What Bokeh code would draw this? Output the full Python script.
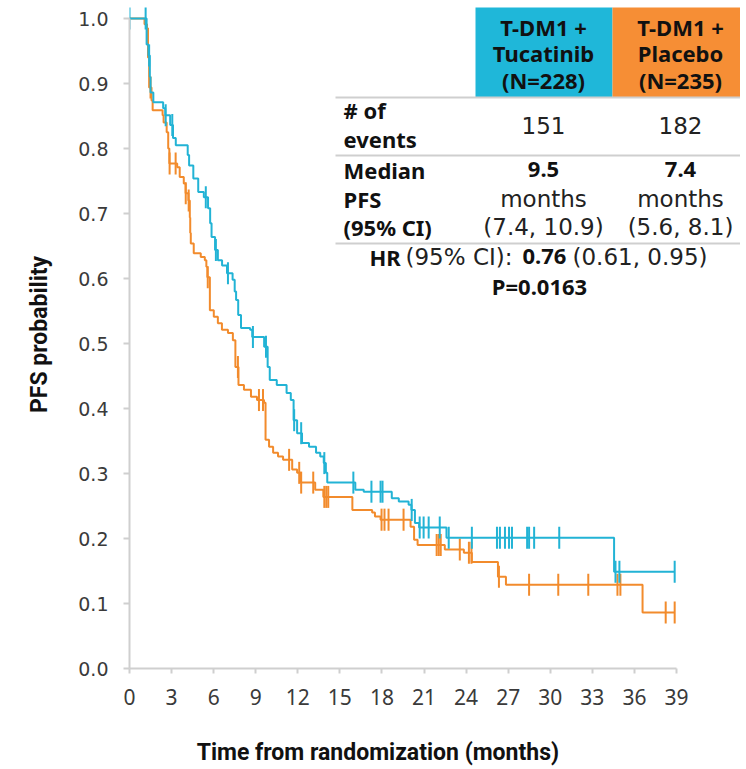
import numpy as np
from bokeh.plotting import figure
from bokeh.models import LinearAxis, FixedTicker, PrintfTickFormatter, Range1d
from bokeh.core.properties import value
from bokeh.embed import file_html
from bokeh.resources import INLINE

# ---------------- data ----------------
x_ticks = [0, 3, 6, 9, 12, 15, 18, 21, 24, 27, 30, 33, 36, 39]
y_ticks = [0.0, 0.1, 0.2, 0.3, 0.4, 0.5, 0.6, 0.7, 0.8, 0.9, 1.0]

# T-DM1 + Tucatinib: step times (months) and PFS probability after each step
tuc_t = [0, 1.22, 1.35, 1.45, 1.5, 1.7, 2.4, 2.55, 2.9, 3.1, 3.3, 4.15, 4.25, 4.55, 4.9,
         5.3, 5.6, 5.75, 5.85, 6.1, 6.3, 6.6, 6.95, 7.35, 7.5, 7.6, 7.75, 7.95, 8.6, 8.75,
         9.6, 9.85, 10.0, 10.5, 11.2, 11.5, 11.7, 11.95, 12.3, 12.8, 13.3, 13.6, 13.85, 14.0,
         14.1, 16.1, 16.7, 18.7, 19.2, 19.9, 20.1, 20.35, 20.65, 22.6, 34.55]
tuc_s = [1.0, 0.96, 0.943, 0.91, 0.886, 0.871, 0.862, 0.851, 0.836, 0.816, 0.805, 0.79, 0.774,
         0.754, 0.733, 0.725, 0.708, 0.685, 0.664, 0.644, 0.628, 0.62, 0.608, 0.598, 0.58,
         0.567, 0.544, 0.524, 0.521, 0.51, 0.495, 0.464, 0.444, 0.436, 0.424, 0.413, 0.382,
         0.362, 0.347, 0.341, 0.332, 0.326, 0.316, 0.301, 0.286, 0.275, 0.272, 0.262, 0.257,
         0.252, 0.244, 0.224, 0.217, 0.201, 0.149]
tuc_end = 38.87
tuc_censor = [0.0, 1.15, 1.4, 2.58, 3.05, 5.44, 6.16, 7.02, 8.8, 9.73, 11.74, 12.24, 13.89,
              15.96, 17.25, 17.9, 18.04, 20.12, 20.69, 20.97, 21.33, 22.12, 22.76, 24.41,
              26.2, 26.41, 26.77, 27.06, 27.27, 28.35, 28.49, 28.85, 30.64, 34.65, 34.93, 38.87]

# T-DM1 + Placebo
pla_t = [0, 1.07, 1.25, 1.32, 1.4, 1.57, 1.65, 2.36, 2.43, 2.65, 2.76, 2.84, 3.4, 3.58, 3.87,
         4.0, 4.2, 4.3, 4.33, 4.37, 4.58, 5.08, 5.37, 5.48, 5.55, 5.73, 6.01, 6.3, 6.59, 7.02,
         7.37, 7.55, 7.77, 8.16, 8.66, 9.09, 9.59, 9.7, 9.95, 10.24, 10.59, 10.95, 11.6, 11.95,
         12.2, 13.24, 13.82, 15.89, 17.3, 17.5, 17.9, 20.04, 20.29, 20.54, 22.48, 23.84, 24.41,
         26.27, 26.84, 36.58]
pla_s = [1.0, 0.991, 0.985, 0.94, 0.894, 0.874, 0.859, 0.851, 0.84, 0.825, 0.8, 0.777, 0.771,
         0.756, 0.746, 0.731, 0.72, 0.694, 0.67, 0.654, 0.639, 0.633, 0.628, 0.618, 0.602,
         0.551, 0.541, 0.531, 0.521, 0.516, 0.505, 0.464, 0.436, 0.429, 0.418, 0.413, 0.409,
         0.352, 0.341, 0.332, 0.326, 0.321, 0.306, 0.301, 0.286, 0.275, 0.264, 0.244, 0.24,
         0.234, 0.229, 0.218, 0.198, 0.19, 0.183, 0.178, 0.164, 0.141, 0.129, 0.086]
pla_end = 38.87
pla_censor = [1.5, 2.86, 3.29, 4.01, 4.22, 5.58, 7.73, 9.23, 9.52, 11.38, 12.1, 12.24, 13.1,
              13.89, 14.03, 14.17, 17.97, 18.18, 18.47, 19.54, 21.9, 22.05, 22.19, 23.55,
              24.2, 24.38, 26.34, 28.49, 30.57, 32.71, 34.79, 35.0, 38.23, 38.87]

arm_names = ["T-DM1 +\nTucatinib\n(N=228)", "T-DM1 +\nPlacebo\n(N=235)"]
events = ["151", "182"]
median_pfs = ["9.5", "7.4"]
median_ci = ["(7.4, 10.9)", "(5.6, 8.1)"]
hr_text = ["HR", "(95% CI):", "0.76", "(0.61, 0.95)"]
p_text = "P=0.0163"
x_title = "Time from randomization (months)"
y_title = "PFS probability"

# ---------------- styling / layout ----------------
BLUE = "#22b3d5"
ORANGE = "#f28b2c"
BLUE_BOX = "#1fb7d9"
ORANGE_BOX = "#f68e35"
GRID = "#cfcfcf"
BOLD_FONT = value("Noto Sans")
NORM_FONT = value("DejaVu Sans")

W, H = 740, 768
FRAME_L, FRAME_R, FRAME_T, FRAME_B = 129, 740, 0, 668  # page pixels
X0_PX, X39_PX, Y1_PX = 129, 676, 18
KX = (X39_PX - X0_PX) / 39.0
KY = (FRAME_B - Y1_PX) / 1.0
x_start = -(X0_PX - FRAME_L) / KX
x_end = 39 + (FRAME_R - X39_PX) / KX
y_end = 1.0 + (Y1_PX - FRAME_T) / KY


def X(px):
    return x_start + (px - FRAME_L) / KX


def Y(py):
    return (FRAME_B - py) / KY


p = figure(width=W, height=H, x_range=Range1d(x_start, x_end), y_range=Range1d(0, y_end),
           output_backend="svg", toolbar_location=None,
           x_axis_location=None, y_axis_location=None,
           min_border_left=FRAME_L, min_border_right=W - FRAME_R, min_border_top=FRAME_T,
           min_border_bottom=H - FRAME_B)
p.outline_line_color = None
p.xgrid.visible = False
p.ygrid.visible = False

# the x title is centred under the curves (not under the wider frame that also holds the
# table), so it is padded on the right with no-break spaces
xaxis = LinearAxis(ticker=FixedTicker(ticks=x_ticks), bounds=(x_start, 39),
                   axis_label=x_title + "\u00a0" * 20)
yaxis = LinearAxis(ticker=FixedTicker(ticks=y_ticks), bounds=(0, 1.0),
                   formatter=PrintfTickFormatter(format="%.1f"), axis_label=y_title)
for ax in (xaxis, yaxis):
    ax.axis_line_color = GRID
    ax.axis_line_width = 2
    ax.major_tick_line_color = GRID
    ax.major_tick_line_width = 2
    ax.major_tick_in = 0
    ax.minor_tick_line_color = None
    ax.major_label_text_color = "#3a3a3a"
    ax.axis_label_text_font = "Roboto"
    ax.axis_label_text_font_style = "bold"
    ax.axis_label_text_font_size = "23px"
    ax.axis_label_text_color = "#111111"
xaxis.major_tick_out = 5
xaxis.major_label_standoff = 15
xaxis.major_label_text_font = "Noto Sans"
xaxis.major_label_text_font_size = "21px"
xaxis.axis_label_standoff = 31
yaxis.major_tick_out = 6
yaxis.major_label_standoff = 15
yaxis.major_label_text_font = "DejaVu Sans"
yaxis.major_label_text_font_size = "19px"
yaxis.axis_label_standoff = 22
p.add_layout(xaxis, "below")
p.add_layout(yaxis, "left")


def surv_at(times, surv, t):
    idx = np.searchsorted(np.array(times), np.array(t), side="right") - 1
    return [surv[i] for i in idx]


for times, surv, end, cens, col in ((pla_t, pla_s, pla_end, pla_censor, ORANGE),
                                    (tuc_t, tuc_s, tuc_end, tuc_censor, BLUE)):
    xs = list(times) + [end]
    ys = list(surv) + [surv[-1]]
    p.step(xs, ys, mode="after", line_color=col, line_width=2)
    p.scatter(cens, surv_at(times, surv, cens), marker="dash", angle=np.pi / 2, size=22,
              line_color=col, line_width=2)

# ---------------- table ----------------
COL_C = [543, 680]
p.quad(left=[X(475), X(612)], right=[X(612), X(FRAME_R)], top=[Y(7), Y(7)],
       bottom=[Y(97), Y(97)], fill_color=[BLUE_BOX, ORANGE_BOX], line_color=None)
p.segment(x0=[X(335)] * 3, x1=[X(FRAME_R)] * 3, y0=[Y(97), Y(155), Y(243)],
          y1=[Y(97), Y(155), Y(243)], line_color=GRID, line_width=2)

bold = dict(text_font=BOLD_FONT, text_font_size="22px", text_font_style="bold",
            text_color="#111111", text_baseline="middle")
norm = dict(text_font=NORM_FONT, text_font_size="23px", text_font_style="normal",
            text_color="#222222", text_baseline="middle")

# header
hx, hy, ht = [], [], []
for c, name in zip(COL_C, arm_names):
    for line, py in zip(name.split("\n"), (26, 52, 79)):
        hx.append(X(c)); hy.append(Y(py)); ht.append(line)
p.text(hx, hy, ht, text_align="center", **bold)

# row labels
p.text([X(343)] * 5, [Y(109), Y(138), Y(169), Y(198), Y(226)],
       ["# of", "events", "Median", "PFS", "(95% CI)"], text_align="left", **bold)

# values
p.text([X(c) for c in COL_C], [Y(125)] * 2, events, text_align="center", **norm)
p.text([X(c) for c in COL_C], [Y(169)] * 2, median_pfs, text_align="center", **bold)
p.text([X(c) for c in COL_C], [Y(198)] * 2, ["months", "months"], text_align="center", **norm)
p.text([X(c) for c in COL_C], [Y(226)] * 2, median_ci, text_align="center", **norm)

# HR line
p.text([X(369), X(522)], [Y(256)] * 2, [hr_text[0], hr_text[2]], text_align="left", **bold)
p.text([X(405), X(572)], [Y(256)] * 2, [hr_text[1], hr_text[3]], text_align="left", **norm)
p.text([X(539)], [Y(285)], [p_text], text_align="center", **bold)

open("out.html", "w").write(file_html(p, INLINE))
